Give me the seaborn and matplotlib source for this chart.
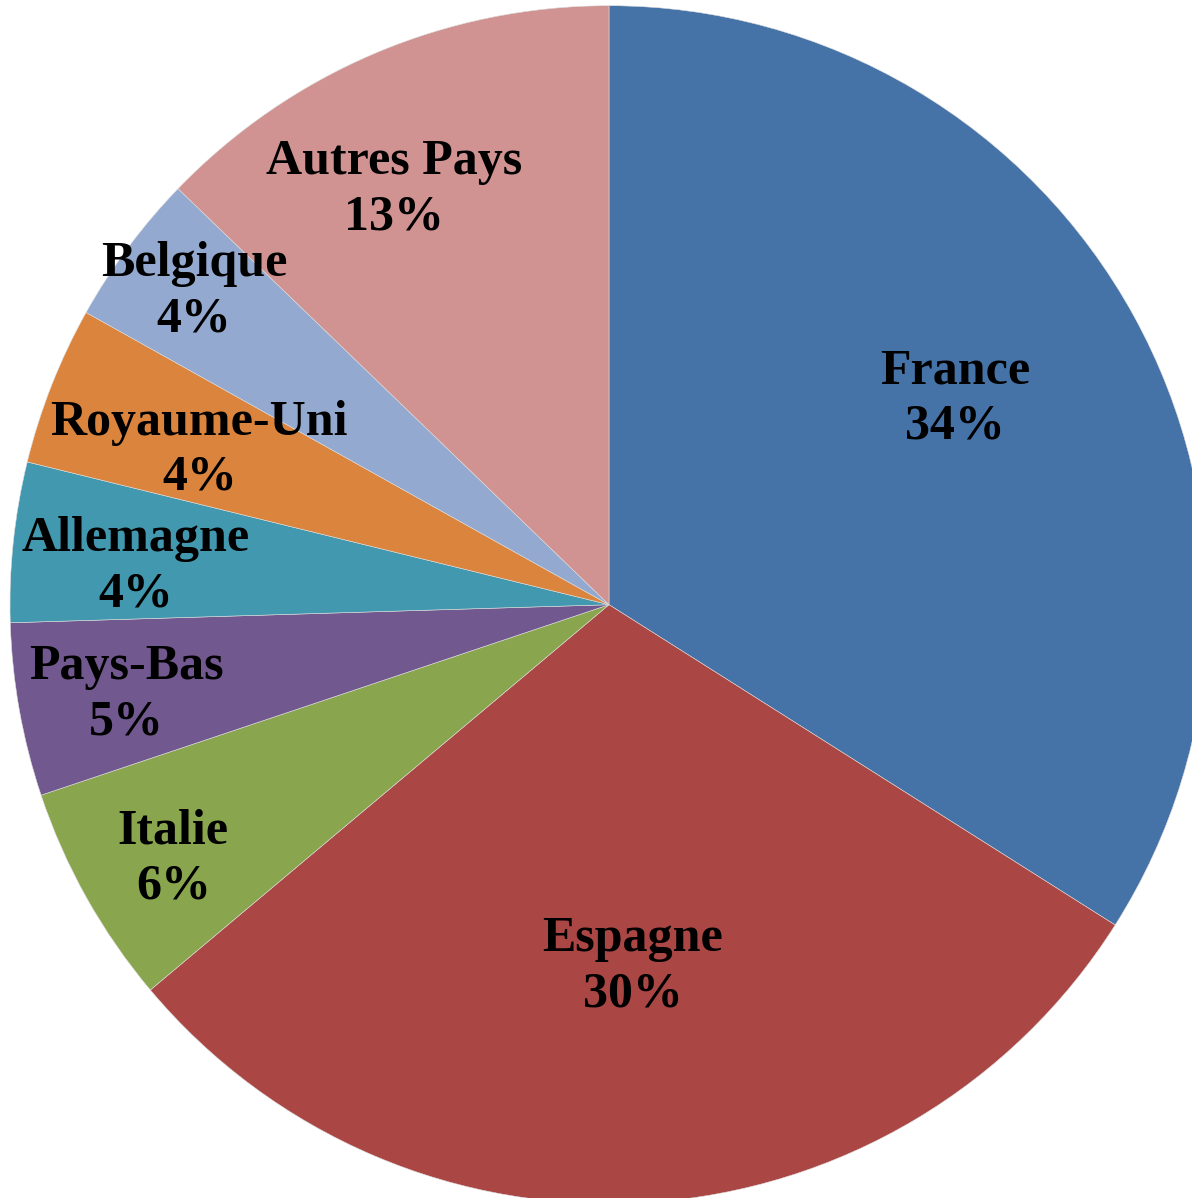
import numpy as np
import matplotlib
matplotlib.use('Agg')
import matplotlib.pyplot as plt
import seaborn as sns

## ============================== ##

countries = ['France', 'Espagne', 'Italie', 'Pays-Bas', 'Allemagne',
	'Royaume-Uni', 'Belgique', 'Autres Pays']
shares = [33.98, 29.90, 5.97, 4.67, 4.31, 4.28, 4.11, 12.78]
colors = ['#4572A7', '#AA4643', '#89A54E', '#71588F', '#4198AF',
	'#DB843D', '#93A9CF', '#D19392']

# label placement: angle (deg) and distance (fraction of radius)
label_ang = [31.2, -86.2, 209.9, 190.2, 175.0, 158.9, 142.7, 117.2]
label_dist = [0.675, 0.599, 0.839, 0.818, 0.793, 0.733, 0.871, 0.786]

## ============================== ##

sns.set_style('white')
plt.rcParams['font.family'] = ['Liberation Serif', 'DejaVu Serif']

fig = plt.figure(figsize=(11.92, 11.98), dpi=100)
ax = fig.add_axes([0, 0, 1, 1])

wedges, _ = ax.pie(shares, colors=colors, startangle=90, counterclock=False,
	radius=1., wedgeprops=dict(edgecolor='#dddddd', linewidth=0.4))

total = float(np.sum(shares))
for name, val, a, d in zip(countries, shares, label_ang, label_dist):
	ang = np.deg2rad(a)
	ax.text(d * np.cos(ang), d * np.sin(ang) - 0.006,
		'{0:s}\n{1:.0f}%'.format(name, 100. * val / total),
		ha='center', va='center', fontsize=36, fontweight='bold',
		color='black', linespacing=1.27)

ax.set_xlim(-609. / 599., (1192. - 609.) / 599.)
ax.set_ylim(-(1198. - 604.7) / 599., 604.7 / 599.)
ax.set_aspect('auto')
ax.axis('off')

fig.savefig('out.png', dpi=100)
